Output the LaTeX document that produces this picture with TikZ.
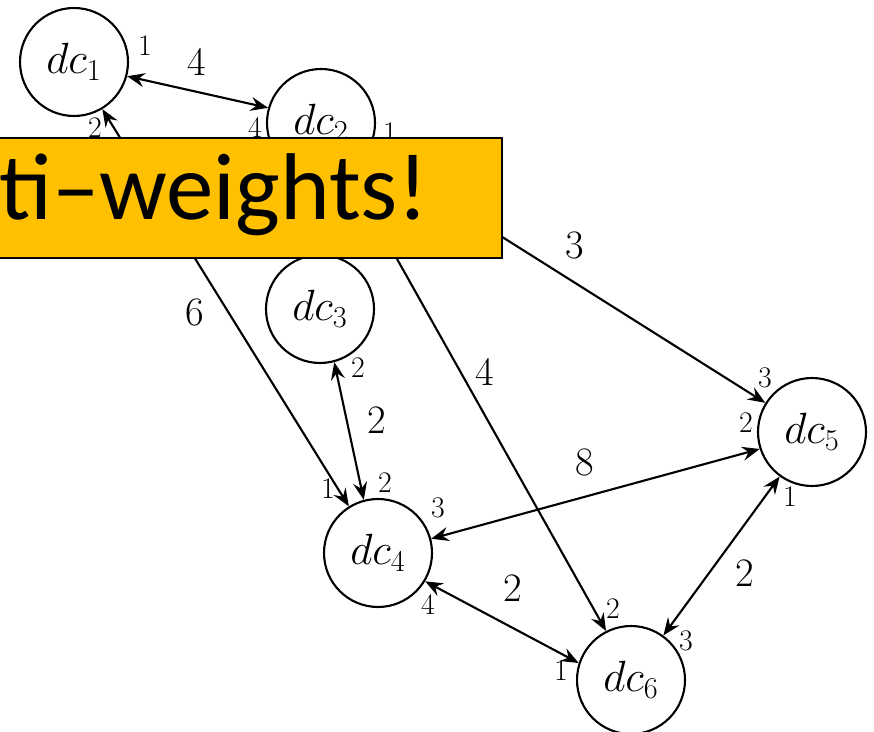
\documentclass[tikz,border=0pt]{standalone}
\usepackage{amsmath}
\usepackage{fontspec}
\usepackage{tikz}
\usetikzlibrary{arrows.meta}
\newfontfamily\bannerfont{Carlito}
\definecolor{bannergold}{RGB}{255,192,0}

\tikzset{
    dc/.style = {draw, circle, line width=1.2pt, minimum size=2.16cm, inner sep=0pt,
                 font=\fontsize{25}{29}\selectfont},
    wt/.style = {font=\fontsize{23}{27}\selectfont, inner sep=0pt},
    port/.style = {font=\fontsize{17}{20}\selectfont, inner sep=0pt},
    link/.style = {line width=1.2pt, >={Stealth[length=10pt, width=8pt, inset=3.5pt]}}
}

\begin{document}
\begin{tikzpicture}[x=0.02cm, y=-0.02cm]
             \useasboundingbox (0,0) rectangle (874,732);

             \node [dc] (dc1) at (74,62)   {$dc_1$};
             \node [dc] (dc2) at (321,123) {$dc_2$};
             \node [dc] (dc3) at (320,309) {$dc_3$};
             \node [dc] (dc4) at (378,553) {$dc_4$};
             \node [dc] (dc5) at (812,432) {$dc_5$};
             \node [dc] (dc6) at (631,680) {$dc_6$};

             \draw [link, <->] (dc1.-15) -- (dc2.164);
             \draw [link, <->] (dc1.-59) -- (dc4.122);
             \draw [link, ->]  (dc2.-32) -- (dc5.148);
             \draw [link, ->]  (dc2.-61) -- (dc6.117);
             \draw [link, <->] (dc3.-75) -- (dc4.105);
             \draw [link, <->] (dc4.15)  -- (dc5.198);
             \draw [link, <->] (dc4.-31) -- (dc6.162);
             \draw [link, <->] (dc5.234) -- (dc6.54);

             \node [wt] (w12) at (197,62)  {4};
             \node [wt] (w14) at (195,312) {6};
             \node [wt] (w25) at (575,245) {3};
             \node [wt] (w26) at (485,372) {4};
             \node [wt] (w34) at (377,420) {2};
             \node [wt] (w45) at (585,462) {8};
             \node [wt] (w46) at (513,588) {2};
             \node [wt] (w56) at (745,573) {2};

             \node [port] (p11) at (145,46)  {1};
             \node [port] (p12) at (95,128)  {2};
             \node [port] (p24) at (255,128) {4};
             \node [port] (p21) at (390,133) {1};
             \node [port] (p32) at (358,368) {2};
             \node [port] (p41) at (328,489) {1};
             \node [port] (p42) at (385,483) {2};
             \node [port] (p43) at (438,508) {3};
             \node [port] (p44) at (428,605) {4};
             \node [port] (p53) at (765,378) {3};
             \node [port] (p52) at (746,423) {2};
             \node [port] (p51) at (790,497) {1};
             \node [port] (p62) at (613,609) {2};
             \node [port] (p63) at (686,641) {3};
             \node [port] (p61) at (561,671) {1};

             \draw [fill = bannergold, line width=1pt] (-10,138) rectangle (502,258);
             \node [anchor=base west, inner sep=0pt, font=\bannerfont\fontsize{54}{60}\selectfont]
                   (banner) at (-1,220) {ti–weights!};
     \end{tikzpicture}
\end{document}
